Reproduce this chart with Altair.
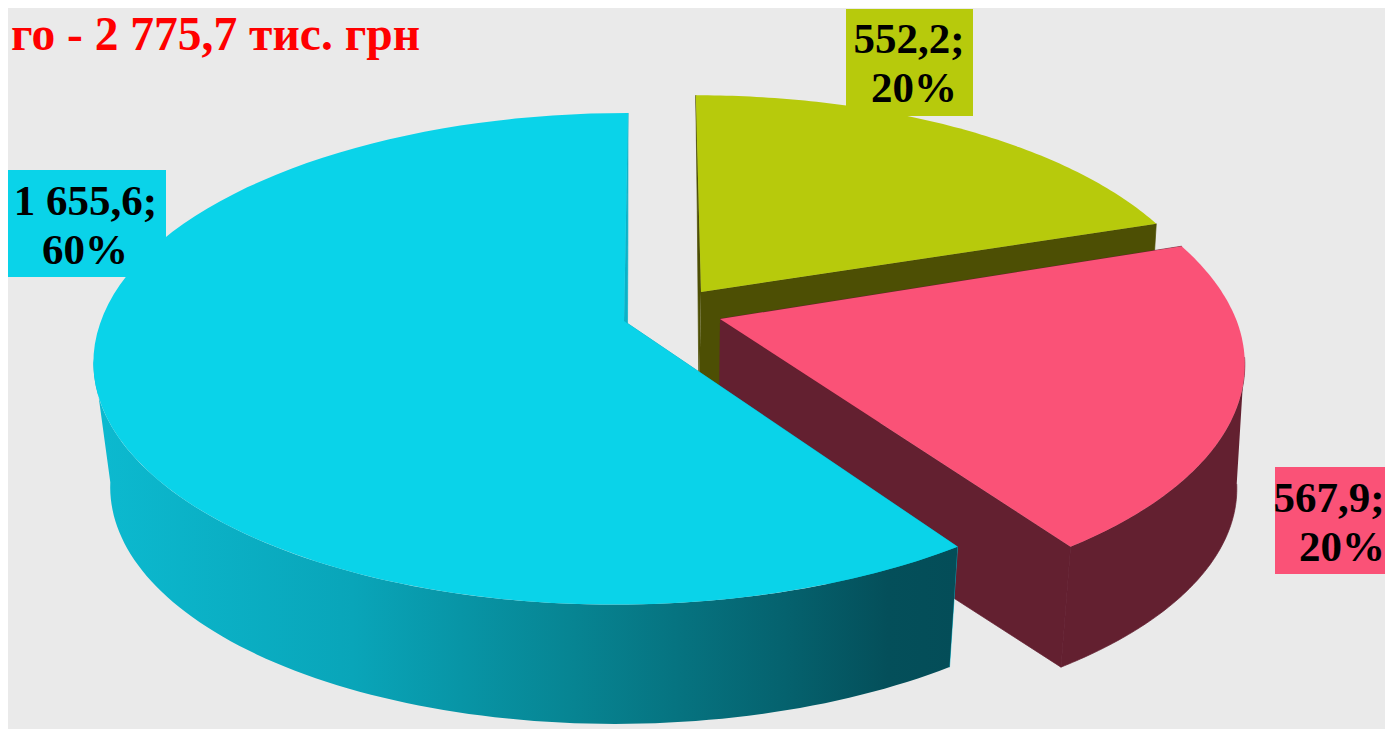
import math
import altair as alt
import pandas as pd

# ---- values ----
slice_names = ["olive", "pink", "cyan"]
slice_values = [552.2, 567.9, 1655.6]
value_labels = ["552,2;", "567,9;", "1 655,6;"]
percent_labels = ["20%", "20%", "60%"]
title_text = "го\u00a0- 2 775,7 тис. грн"

# ---- layout / style (image pixel coordinates) ----
W, H = 1377, 721
K = 0.1538
# plane: ax, ay, A, B, Cpos, Cneg
PLANES = {
    "olive": ((701, 292, 505, 227, -6, 0), (699, 405, 498, 224, -2, 0)),
    "pink": ((720, 319, 516, 242, -18, -15), (719, 447, 510, 234, -20, -10)),
    "cyan": ((624, 321, 523, 240, 4.6, 8), (627, 445, 509, 236, 1, 10)),
}
TOP = {"olive": "#B7CA0C", "pink": "#FA5277", "cyan": "#0AD3E9"}
SIDE = {"olive": "#4D4F04", "pink": "#632030", "cyan": "#0BB2C8"}
WALL_GRADIENT = alt.Gradient(
    gradient="linear", x1=0, x2=1, y1=0, y2=0,
    stops=[
        alt.GradientStop(color="#0CBAD0", offset=0),
        alt.GradientStop(color="#09A5B9", offset=0.3),
        alt.GradientStop(color="#078593", offset=0.55),
        alt.GradientStop(color="#05626E", offset=0.8),
        alt.GradientStop(color="#044F5A", offset=0.92),
        alt.GradientStop(color="#044D58", offset=1),
    ],
)
BOXES = {"olive": (846, 9, 973, 116), "pink": (1275, 467, 1393, 574), "cyan": (7, 170, 166, 277)}
TEXTPOS = {
    "olive": (909, 53, 914, 102),
    "pink": (1329, 512, 1342, 561),
    "cyan": (85.5, 215, 85, 264),
}

x_enc = alt.X("x:Q", axis=None, scale=alt.Scale(domain=[8, 8 + W], range=[0, W], nice=False, zero=False))
y_enc = alt.Y("y:Q", axis=None, scale=alt.Scale(domain=[8, 8 + H], range=[0, H], nice=False, zero=False))


def project(theta, plane):
    ax, ay, A, B, cp, cn = plane
    X, Y = math.sin(theta), math.cos(theta)
    w = 1 + K * Y
    return (ax + (A * X + cp * max(Y, 0) + cn * min(Y, 0)) / w, ay - B * Y / w)


def arc(t0, t1, plane, n=90):
    return [project(t0 + (t1 - t0) * i / n, plane) for i in range(n + 1)]


def polygon(points, fill, seam=None):
    df = pd.DataFrame({"x": [p[0] for p in points], "y": [p[1] for p in points], "o": range(len(points))})
    style = dict(fill=fill, interpolate="linear", clip=True)
    style.update(dict(stroke=seam, strokeWidth=0.7) if seam else dict(strokeWidth=0))
    return alt.Chart(df).mark_line(**style).encode(x=x_enc, y=y_enc, order="o:Q")


total = sum(slice_values)
layers = []
start = 0.0
spans = {}
for name, v in zip(slice_names, slice_values):
    end = start + v / total * 2 * math.pi
    spans[name] = (start, end)
    start = end

# silhouette angles of the two visible rims (where the ellipse turns)
right_turn = math.pi - math.asin(math.sqrt(1 - K * K))
left_turn = math.pi + math.asin(math.sqrt(1 - K * K))

for name in slice_names:
    t0, t1 = spans[name]
    top, bot = PLANES[name]
    apex_t, apex_b = (top[0], top[1]), (bot[0], bot[1])
    # cut faces
    layers.append(polygon([apex_t, project(t0, top), project(t0, bot), apex_b], SIDE[name], SIDE[name]))
    layers.append(polygon([apex_t, project(t1, top), project(t1, bot), apex_b], SIDE[name], SIDE[name]))
    # rim, only its front part
    if name == "cyan":
        layers.append(polygon(arc(t0, left_turn, top) + arc(t0, left_turn, bot)[::-1], WALL_GRADIENT))
    elif name == "pink":
        layers.append(polygon(arc(right_turn, t1, top) + arc(right_turn, t1, bot)[::-1], SIDE[name], SIDE[name]))
    # top
    layers.append(polygon([apex_t] + arc(t0, t1, top), TOP[name]))

# label boxes
box_df = pd.DataFrame(
    [{"x": BOXES[n][0], "y": BOXES[n][1], "x2": BOXES[n][2], "y2": BOXES[n][3], "c": TOP[n]} for n in slice_names]
)
layers.append(
    alt.Chart(box_df).mark_rect(clip=True).encode(
        x=x_enc, y=y_enc, x2="x2:Q", y2="y2:Q", fill=alt.Fill("c:N", scale=None)
    )
)

# label text
rows = []
for n, a, b in zip(slice_names, value_labels, percent_labels):
    x1, y1, x2, y2 = TEXTPOS[n]
    rows.append({"x": x1, "y": y1, "t": a})
    rows.append({"x": x2, "y": y2, "t": b})
layers.append(
    alt.Chart(pd.DataFrame(rows)).mark_text(
        font="Liberation Serif", fontWeight="bold", fontSize=43, baseline="alphabetic", align="center", color="#000000"
    ).encode(x=x_enc, y=y_enc, text="t:N")
)

# heading
layers.append(
    alt.Chart(pd.DataFrame({"x": [420], "y": [50], "t": [title_text]})).mark_text(
        font="Liberation Serif", fontWeight="bold", fontSize=47.5, baseline="alphabetic", align="right", color="#FF0000"
    ).encode(x=x_enc, y=y_enc, text="t:N")
)

chart = alt.layer(*layers).properties(
    width=W, height=H, padding=0, background="#EAEAEA", autosize=alt.AutoSizeParams(type="none")
).configure_view(stroke=None)

chart.save("out.html", embed_options={"renderer": "svg", "actions": False})
